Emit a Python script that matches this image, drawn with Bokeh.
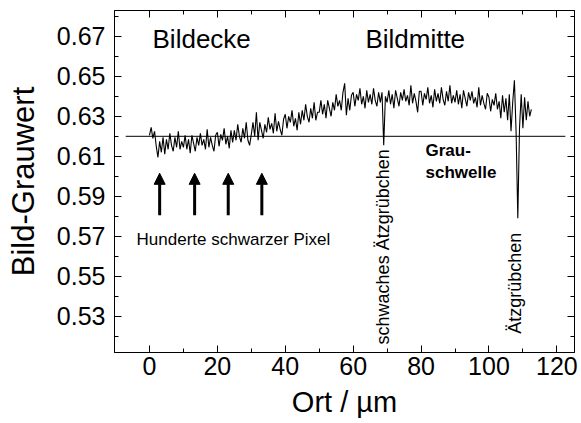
import numpy as np
from bokeh.plotting import figure
from bokeh.models import (Range1d, LinearAxis, FixedTicker, Arrow, NormalHead,
                          Label, NumeralTickFormatter, CustomJSTickFormatter)
from bokeh.embed import file_html
from bokeh.resources import INLINE

# ---------------- data ----------------
ort_step = 0.5  # sampling step in µm
grauwert = [
    0.6205, 0.6245, 0.6190, 0.6225, 0.6150, 0.6095, 0.6175, 0.6120, 0.6195, 0.6110,
    0.6185, 0.6135, 0.6215, 0.6155, 0.6125, 0.6195, 0.6145, 0.6225, 0.6135, 0.6175,
    0.6145, 0.6205, 0.6135, 0.6185, 0.6115, 0.6205, 0.6165, 0.6125, 0.6195, 0.6155,
    0.6215, 0.6155, 0.6185, 0.6135, 0.6235, 0.6145, 0.6195, 0.6155, 0.6125, 0.6205,
    0.6220, 0.6150, 0.6210, 0.6180, 0.6240, 0.6160, 0.6200, 0.6140, 0.6230, 0.6170,
    0.6230, 0.6180, 0.6260, 0.6200, 0.6170, 0.6240, 0.6190, 0.6270, 0.6180, 0.6155,
    0.6210, 0.6270, 0.6200, 0.6320, 0.6180, 0.6270, 0.6230, 0.6190, 0.6260, 0.6220,
    0.6295, 0.6235, 0.6265, 0.6215, 0.6315, 0.6225, 0.6275, 0.6235, 0.6205, 0.6285,
    0.6310, 0.6240, 0.6300, 0.6270, 0.6330, 0.6250, 0.6290, 0.6230, 0.6320, 0.6260,
    0.6330, 0.6280, 0.6360, 0.6300, 0.6270, 0.6340, 0.6290, 0.6370, 0.6280, 0.6320,
    0.6320, 0.6380, 0.6310, 0.6360, 0.6290, 0.6380, 0.6340, 0.6300, 0.6370, 0.6330,
    0.6410, 0.6350, 0.6380, 0.6330, 0.6420, 0.6465, 0.6305, 0.6390, 0.6330, 0.6405,
    0.6420, 0.6350, 0.6410, 0.6380, 0.6440, 0.6360, 0.6400, 0.6340, 0.6430, 0.6370,
    0.6410, 0.6360, 0.6440, 0.6380, 0.6350, 0.6420, 0.6370, 0.6420, 0.6155, 0.6400,
    0.6370, 0.6430, 0.6360, 0.6410, 0.6340, 0.6430, 0.6390, 0.6350, 0.6420, 0.6380,
    0.6435, 0.6375, 0.6405, 0.6355, 0.6455, 0.6365, 0.6415, 0.6375, 0.6320, 0.6425,
    0.6425, 0.6355, 0.6415, 0.6385, 0.6445, 0.6365, 0.6405, 0.6345, 0.6435, 0.6375,
    0.6415, 0.6365, 0.6445, 0.6385, 0.6355, 0.6425, 0.6375, 0.6455, 0.6365, 0.6405,
    0.6370, 0.6430, 0.6360, 0.6410, 0.6340, 0.6430, 0.6390, 0.6350, 0.6420, 0.6380,
    0.6425, 0.6365, 0.6395, 0.6345, 0.6445, 0.6355, 0.6405, 0.6365, 0.6335, 0.6415,
    0.6395, 0.6325, 0.6385, 0.6355, 0.6415, 0.6335, 0.6375, 0.6290, 0.6405, 0.6320,
    0.6390, 0.6280, 0.6410, 0.6225, 0.6370, 0.6480, 0.6220, 0.5790, 0.6240, 0.6410,
    0.6240, 0.6395, 0.6280, 0.6375, 0.6300, 0.6335,
]
ort = np.arange(len(grauwert)) * ort_step

schwelle_x = [-7.0, 122.5]
schwelle_y = [0.62, 0.62]

pfeil_x = [3.0, 13.3, 23.2, 33.1]
pfeil_y_start = 0.5805
pfeil_y_end = 0.6015

x_ticks = [0, 20, 40, 60, 80, 100, 120]
x_minor = [10, 30, 50, 70, 90, 110]
y_ticks = [0.53, 0.55, 0.57, 0.59, 0.61, 0.63, 0.65, 0.67]
y_minor = [0.52, 0.54, 0.56, 0.58, 0.60, 0.62, 0.64, 0.66, 0.68]

FONT = "Liberation Sans"

# ---------------- figure ----------------
p = figure(width=581, height=423, output_backend="svg", toolbar_location=None,
           x_range=Range1d(-10.3, 125.2), y_range=Range1d(0.5119, 0.6829),
           min_border_left=114, min_border_right=7, min_border_top=10,
           min_border_bottom=71)
p.background_fill_color = "white"
p.border_fill_color = "white"
p.outline_line_color = "black"
p.outline_line_width = 1
p.grid.visible = False


def style_axis(ax, show_labels=True):
    ax.axis_line_color = "black"
    ax.major_tick_in = 7
    ax.major_tick_out = 0
    ax.minor_tick_in = 4
    ax.minor_tick_out = 0
    ax.major_tick_line_color = "black"
    ax.minor_tick_line_color = "black"
    ax.major_label_text_font = FONT
    ax.major_label_text_color = "black"
    ax.axis_label_text_color = "black"
    if not show_labels:
        ax.formatter = CustomJSTickFormatter(code="return '';")
        ax.major_label_standoff = 0


xa = p.xaxis[0]
xa.ticker = FixedTicker(ticks=x_ticks, minor_ticks=x_minor)
style_axis(xa)
xa.major_label_text_font_size = "25px"
xa.major_label_standoff = 4
xa.axis_label = "Ort / µm"
xa.axis_label_text_font = FONT
xa.axis_label_text_font_size = "29px"
xa.axis_label_text_font_style = "normal"
xa.axis_label_standoff = 8

ya = p.yaxis[0]
ya.ticker = FixedTicker(ticks=y_ticks, minor_ticks=y_minor)
ya.formatter = NumeralTickFormatter(format="0.00")
style_axis(ya)
ya.major_label_text_font_size = "25px"
ya.major_label_standoff = 9
ya.axis_label = "Bild-Grauwert"
ya.axis_label_text_font = FONT
ya.axis_label_text_font_size = "31px"
ya.axis_label_text_font_style = "normal"
ya.axis_label_standoff = 13

top = LinearAxis(ticker=FixedTicker(ticks=x_ticks, minor_ticks=x_minor))
style_axis(top, show_labels=False)
p.add_layout(top, "above")
right = LinearAxis(ticker=FixedTicker(ticks=y_ticks, minor_ticks=y_minor))
style_axis(right, show_labels=False)
p.add_layout(right, "right")

# ---------------- marks ----------------
p.line(ort, grauwert, line_color="black", line_width=1.1)
p.line(schwelle_x, schwelle_y, line_color="black", line_width=1)

for xv in pfeil_x:
    p.add_layout(Arrow(end=NormalHead(size=11, fill_color="black", line_color="black"),
                       x_start=xv, y_start=pfeil_y_start, x_end=xv, y_end=pfeil_y_end,
                       line_width=3, line_color="black"))


def add_label(text, x, y, size, style="normal", align="left", baseline="middle", angle=0.0):
    p.add_layout(Label(x=x, y=y, text=text, text_font=FONT, text_font_size=size,
                       text_font_style=style, text_align=align, text_baseline=baseline,
                       angle=angle, text_color="black"))


add_label("Bildecke", 0.9, 0.6689, "26px")
add_label("Bildmitte", 63.6, 0.6689, "26px")
add_label("Grau-", 81.3, 0.6129, "17px", style="bold")
add_label("schwelle", 81.3, 0.6020, "17px", style="bold")
add_label("Hunderte schwarzer Pixel", -3.8, 0.5685, "17px")
add_label("schwaches Ätzgrübchen", 68.9, 0.6135, "18px", align="right", angle=np.pi / 2)
add_label("Ätzgrübchen", 107.8, 0.5718, "18px", align="right", angle=np.pi / 2)

open("out.html", "w").write(file_html(p, INLINE))
